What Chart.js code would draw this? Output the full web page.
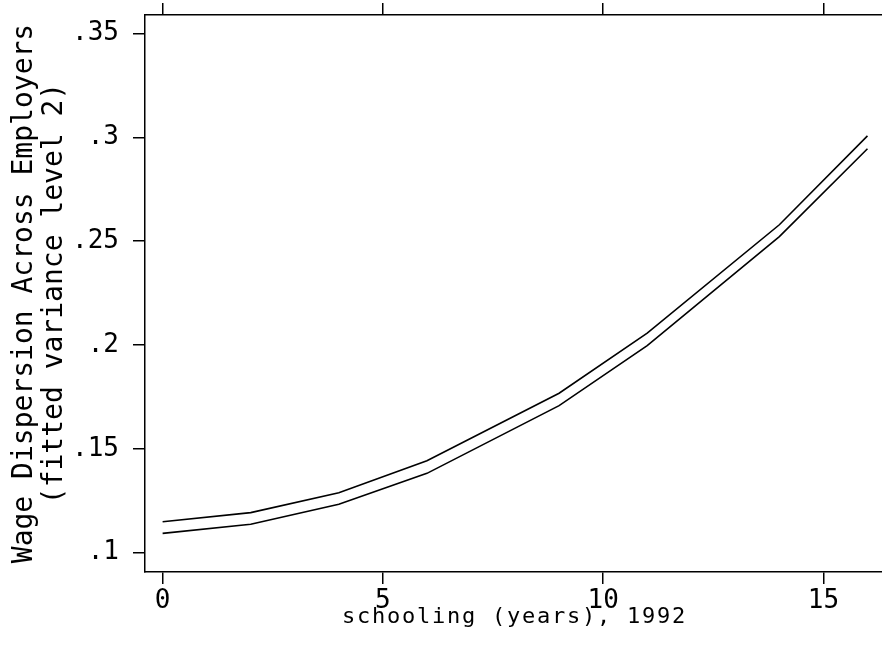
<!DOCTYPE html>
<html>
<head>
<meta charset="utf-8">
<script src="https://cdn.jsdelivr.net/npm/chart.js@4"></script>
<style>
  html, body { margin: 0; padding: 0; background: #fff; }
  #wrap { width: 882px; height: 647px; }
</style>
</head>
<body>
<div id="wrap"><canvas id="chart"></canvas></div>
<script>
var schooling = [0, 2, 4, 6, 9, 11, 14, 16];
var upperBand = [0.1149, 0.1193, 0.1289, 0.1443, 0.1768, 0.2057, 0.2579, 0.3007];
var lowerBand = [0.1093, 0.1137, 0.1233, 0.1382, 0.1708, 0.1997, 0.2522, 0.2945];
var xTicks = [0, 5, 10, 15];
var yTicks = [0.1, 0.15, 0.2, 0.25, 0.3, 0.35];
var yTitle = ["Wage Dispersion Across Employers", "(fitted variance level 2)"];
var xTitle = "schooling (years), 1992";

var mono = "'DejaVu Sans Mono', monospace";

function toPoints(ys) {
  return schooling.map(function (x, i) { return { x: x, y: ys[i] }; });
}

function noPad(s) {
  s.paddingTop = 0;
  s.paddingBottom = 0;
  s.paddingLeft = 0;
  s.paddingRight = 0;
}

var xTitlePlugin = {
  id: "xTitle",
  afterDraw: function (chart) {
    var ctx = chart.ctx;
    var area = chart.chartArea;
    ctx.save();
    ctx.font = "22px " + mono;
    ctx.fillStyle = "#000";
    ctx.textAlign = "center";
    ctx.textBaseline = "alphabetic";
    ctx.letterSpacing = "1.75px";
    ctx.fillText(xTitle, (area.left + area.right) / 2 + 1, 623);
    ctx.restore();
  }
};

var ctx = document.getElementById("chart").getContext("2d");
new Chart(ctx, {
  type: "scatter",
  data: {
    datasets: [
      {
        data: toPoints(upperBand),
        showLine: true,
        borderColor: "#000",
        borderWidth: 1.6,
        pointRadius: 0,
        tension: 0
      },
      {
        data: toPoints(lowerBand),
        showLine: true,
        borderColor: "#000",
        borderWidth: 1.6,
        pointRadius: 0,
        tension: 0
      }
    ]
  },
  options: {
    responsive: true,
    maintainAspectRatio: false,
    animation: false,
    layout: { padding: 0 },
    plugins: {
      legend: { display: false },
      tooltip: { enabled: false }
    },
    scales: {
      x: {
        type: "linear",
        position: "bottom",
        min: -0.4,
        max: 16.33,
        afterBuildTicks: function (s) { s.ticks = xTicks.map(function (v) { return { value: v }; }); },
        afterFit: function (s) { s.height = 75; noPad(s); },
        grid: { drawOnChartArea: false, tickLength: 12, color: "#000", lineWidth: 1.5 },
        border: { color: "#000", width: 1.5 },
        ticks: {
          color: "#000",
          font: { family: mono, size: 26 },
          padding: 2,
          maxRotation: 0
        }
      },
      x2: {
        type: "linear",
        position: "top",
        min: -0.4,
        max: 16.33,
        afterBuildTicks: function (s) { s.ticks = xTicks.map(function (v) { return { value: v }; }); },
        afterFit: function (s) { s.height = 15; noPad(s); },
        grid: { drawOnChartArea: false, tickLength: 12, color: "#000", lineWidth: 1.5 },
        border: { color: "#000", width: 1.5 },
        ticks: { display: false }
      },
      y: {
        type: "linear",
        position: "left",
        min: 0.0907,
        max: 0.3589,
        afterBuildTicks: function (s) { s.ticks = yTicks.map(function (v) { return { value: v }; }); },
        afterFit: function (s) { s.width = 145; noPad(s); },
        grid: { drawOnChartArea: false, tickLength: 12, color: "#000", lineWidth: 1.5 },
        border: { color: "#000", width: 1.5 },
        ticks: {
          color: "#000",
          font: { family: mono, size: 26 },
          padding: 14,
          callback: function (v) { return String(Math.round(v * 100) / 100).replace(/^0/, ""); }
        },
        title: {
          display: true,
          text: yTitle,
          color: "#000",
          font: { family: mono, size: 28, lineHeight: 1.07 },
          padding: { top: 10, bottom: 0 }
        }
      }
    }
  },
  plugins: [xTitlePlugin]
});
</script>
</body>
</html>
